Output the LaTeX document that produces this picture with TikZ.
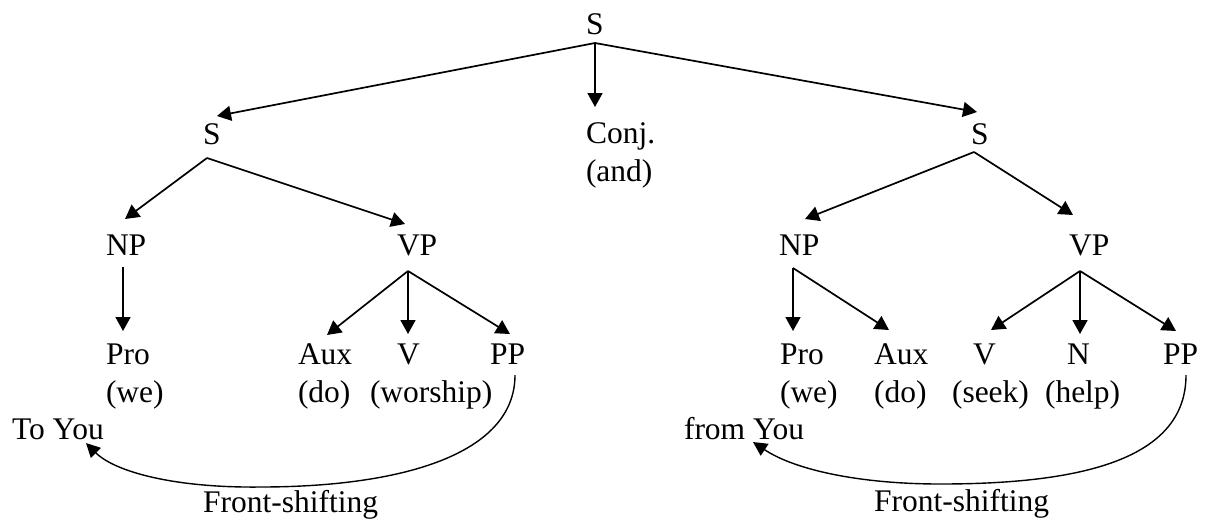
\documentclass[tikz,border=0pt]{standalone}
\usepackage{fontspec}
\setmainfont{Liberation Serif}
\usetikzlibrary{arrows.meta}
\begin{document}
\begin{tikzpicture}[x=0.5pt,y=-0.5pt,
  lbl/.style={anchor=base west,inner sep=0pt,outer sep=0pt,font=\fontsize{15.75}{19}\selectfont},
  arr/.style={line width=0.85pt,-{Triangle[length=7pt,width=7.5pt]}},
  shiftarr/.style={line width=0.7pt,-{Triangle[length=7pt,width=7pt]}}]
\useasboundingbox (0,0) rectangle (1209,521);
% top
\node[lbl] (S0) at (586,34) {S};
\node[lbl] (C1) at (586,143) {Conj.};
\node[lbl] (and1) at (586,181) {(and)};
\node[lbl] (S1) at (203,144) {S};
\node[lbl] (S2) at (971,144) {S};
% left clause
\node[lbl] (NP1) at (106,255) {NP};
\node[lbl] (VP1) at (397,255) {VP};
\node[lbl] (Pro1) at (106,364) {Pro};
\node[lbl] (we1) at (106,402) {(we)};
\node[lbl] (Aux1) at (298,364) {Aux};
\node[lbl] (do1) at (298,402) {(do)};
\node[lbl] (V1) at (397,364) {V};
\node[lbl] (worship) at (370,402) {(worship)};
\node[lbl] (PP1) at (490,364) {PP};
\node[lbl] (ToYou) at (12,439) {To You};
\node[lbl] (FS1) at (203,512) {Front-shifting};
% right clause
\node[lbl] (NP2) at (779,255) {NP};
\node[lbl] (VP2) at (1069,255) {VP};
\node[lbl] (Pro2) at (780,364) {Pro};
\node[lbl] (we2) at (780,402) {(we)};
\node[lbl] (Aux2) at (874,364) {Aux};
\node[lbl] (do2) at (874,402) {(do)};
\node[lbl] (V2) at (973,364) {V};
\node[lbl] (seek) at (952,402) {(seek)};
\node[lbl] (N2) at (1067,364) {N};
\node[lbl] (help) at (1045,402) {(help)};
\node[lbl] (PP2) at (1163,364) {PP};
\node[lbl] (fromYou) at (684,439) {from You};
\node[lbl] (FS2) at (874,511) {Front-shifting};
% top connectors
\draw[arr] ([shift={(9,9)}]S0.base west) -- ([shift={(14,-28)}]S1.base west);
\draw[arr] ([shift={(9,9)}]S0.base west) -- ([shift={(9,-36)}]C1.base west);
\draw[arr] ([shift={(9,9)}]S0.base west) -- ([shift={(6,-32)}]S2.base west);
% left clause connectors
\draw[arr] ([shift={(4,14)}]S1.base west) -- ([shift={(19,-36)}]NP1.base west);
\draw[arr] ([shift={(4,14)}]S1.base west) -- ([shift={(8,-31)}]VP1.base west);
\draw[arr] ([shift={(17,12)}]NP1.base west) -- ([shift={(17,-33)}]Pro1.base west);
\draw[arr] ([shift={(11,16)}]VP1.base west) -- ([shift={(29,-29)}]Aux1.base west);
\draw[arr] ([shift={(11,16)}]VP1.base west) -- ([shift={(11,-30)}]V1.base west);
\draw[arr] ([shift={(11,16)}]VP1.base west) -- ([shift={(20,-30)}]PP1.base west);
% right clause connectors
\draw[arr] ([shift={(3,8)}]S2.base west) -- ([shift={(26,-36)}]NP2.base west);
\draw[arr] ([shift={(3,8)}]S2.base west) -- ([shift={(4,-40)}]VP2.base west);
\draw[arr] ([shift={(14,13)}]NP2.base west) -- ([shift={(13,-33)}]Pro2.base west);
\draw[arr] ([shift={(14,13)}]NP2.base west) -- ([shift={(15,-34)}]Aux2.base west);
\draw[arr] ([shift={(11,16)}]VP2.base west) -- ([shift={(18,-34)}]V2.base west);
\draw[arr] ([shift={(11,16)}]VP2.base west) -- ([shift={(13,-30)}]N2.base west);
\draw[arr] ([shift={(11,16)}]VP2.base west) -- ([shift={(13,-33)}]PP2.base west);
% front-shifting curves
\draw[shiftarr] ([shift={(25,11)}]PP1.base west) .. controls (515,455) and (400,487) .. (260,487)
  .. controls (175,488) and (115,472) .. ([shift={(74,4)}]ToYou.base west);
\draw[shiftarr] ([shift={(23,11)}]PP2.base west) .. controls (1186,460) and (1080,484) .. (940,484)
  .. controls (860,484) and (795,470) .. ([shift={(69,3)}]fromYou.base west);
\end{tikzpicture}
\end{document}
